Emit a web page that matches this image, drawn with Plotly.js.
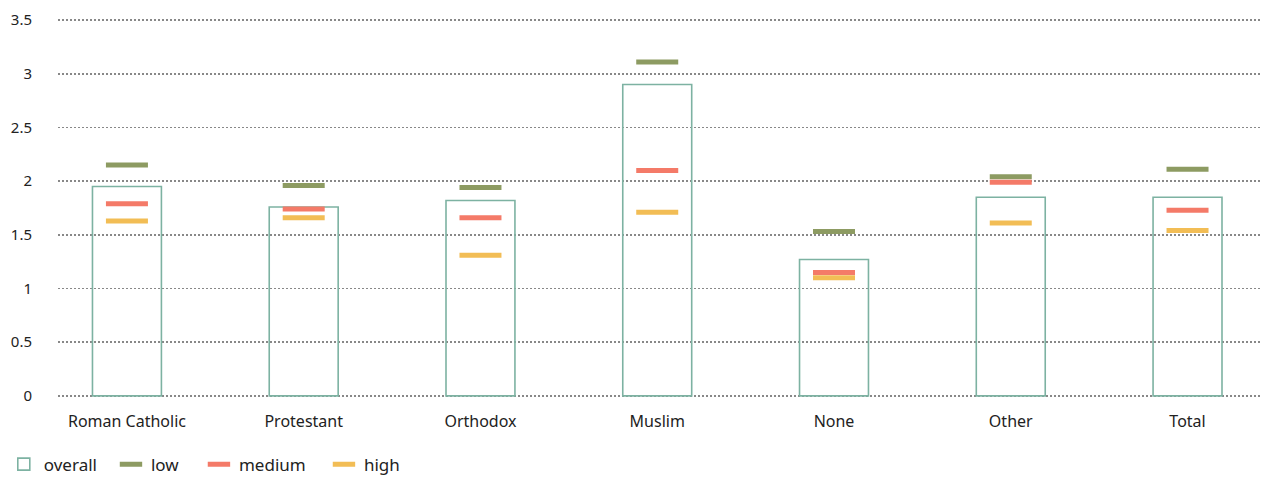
<!DOCTYPE html>
<html>
<head>
<meta charset="utf-8">
<script src="https://cdn.plot.ly/plotly-3.0.1.min.js"></script>
<style>html,body{margin:0;padding:0;background:#fff}#chart{width:1264px;height:477px}</style>
</head>
<body>
<div id="chart"></div>
<script>
const categories = ["Roman Catholic", "Protestant", "Orthodox", "Muslim", "None", "Other", "Total"];
const overall = [1.95, 1.76, 1.82, 2.90, 1.27, 1.85, 1.85];
const low     = [2.15, 1.96, 1.94, 3.11, 1.53, 2.04, 2.11];
const medium  = [1.79, 1.74, 1.66, 2.10, 1.15, 1.99, 1.73];
const high    = [1.63, 1.66, 1.31, 1.71, 1.10, 1.61, 1.54];
const yTicks  = [0, 0.5, 1, 1.5, 2, 2.5, 3, 3.5];
const yTickLabels = ["0", "0.5", "1", "1.5", "2", "2.5", "3", "3.5"];

const idx = categories.map((_, i) => i);
const font = "Noto Sans, Open Sans, sans-serif";

function markTrace(name, vals, color, legendId) {
  return {
    type: "scatter", mode: "markers", name: name, legend: legendId,
    x: idx, y: vals,
    marker: { symbol: "line-ew", size: 30, color: color, line: { color: color, width: 5 } },
    hoverinfo: "y"
  };
}

const data = [
  {
    type: "bar", name: "overall", x: idx, y: overall, width: 0.39, legend: "legend",
    marker: { color: "rgba(255,255,255,0)", line: { color: "#7db2a2", width: 1.6 } }
  },
  markTrace("low", low, "#8d9b62", "legend2"),
  markTrace("medium", medium, "#f47a68", "legend3"),
  markTrace("high", high, "#f2bd55", "legend4")
];

function leg(xFrac) {
  return {
    orientation: "h", xref: "container", yref: "container",
    x: xFrac, y: 0.026, xanchor: "left", yanchor: "middle",
    font: { family: font, size: 17, color: "#222" },
    itemwidth: 30, bgcolor: "rgba(0,0,0,0)"
  };
}

const layout = {
  width: 1264, height: 477,
  margin: { l: 58, r: 4, t: 18, b: 79 },
  paper_bgcolor: "#fff", plot_bgcolor: "#fff",
  font: { family: font, size: 15, color: "#222" },
  showlegend: true,
  legend: leg(0.003),
  legend2: leg(0.0878),
  legend3: leg(0.1574),
  legend4: leg(0.2563),
  xaxis: {
    range: [-0.39, 6.41],
    tickmode: "array", tickvals: idx, ticktext: categories,
    showgrid: false, zeroline: false, showline: false,
    ticks: "outside", ticklen: 9, tickcolor: "rgba(0,0,0,0)",
    tickfont: { family: font, size: 16, color: "#222" }
  },
  yaxis: {
    range: [-0.02, 3.52],
    tickmode: "array", tickvals: yTicks, ticktext: yTickLabels,
    showgrid: true, gridcolor: "#888", griddash: "2px,2px", gridwidth: 1.5,
    zeroline: false, showline: false,
    ticks: "outside", ticklen: 22, tickcolor: "rgba(0,0,0,0)",
    tickfont: { family: font, size: 15, color: "#222" }
  },
  bargap: 0
};

Plotly.newPlot("chart", data, layout, { displayModeBar: false, staticPlot: true });
</script>
</body>
</html>
